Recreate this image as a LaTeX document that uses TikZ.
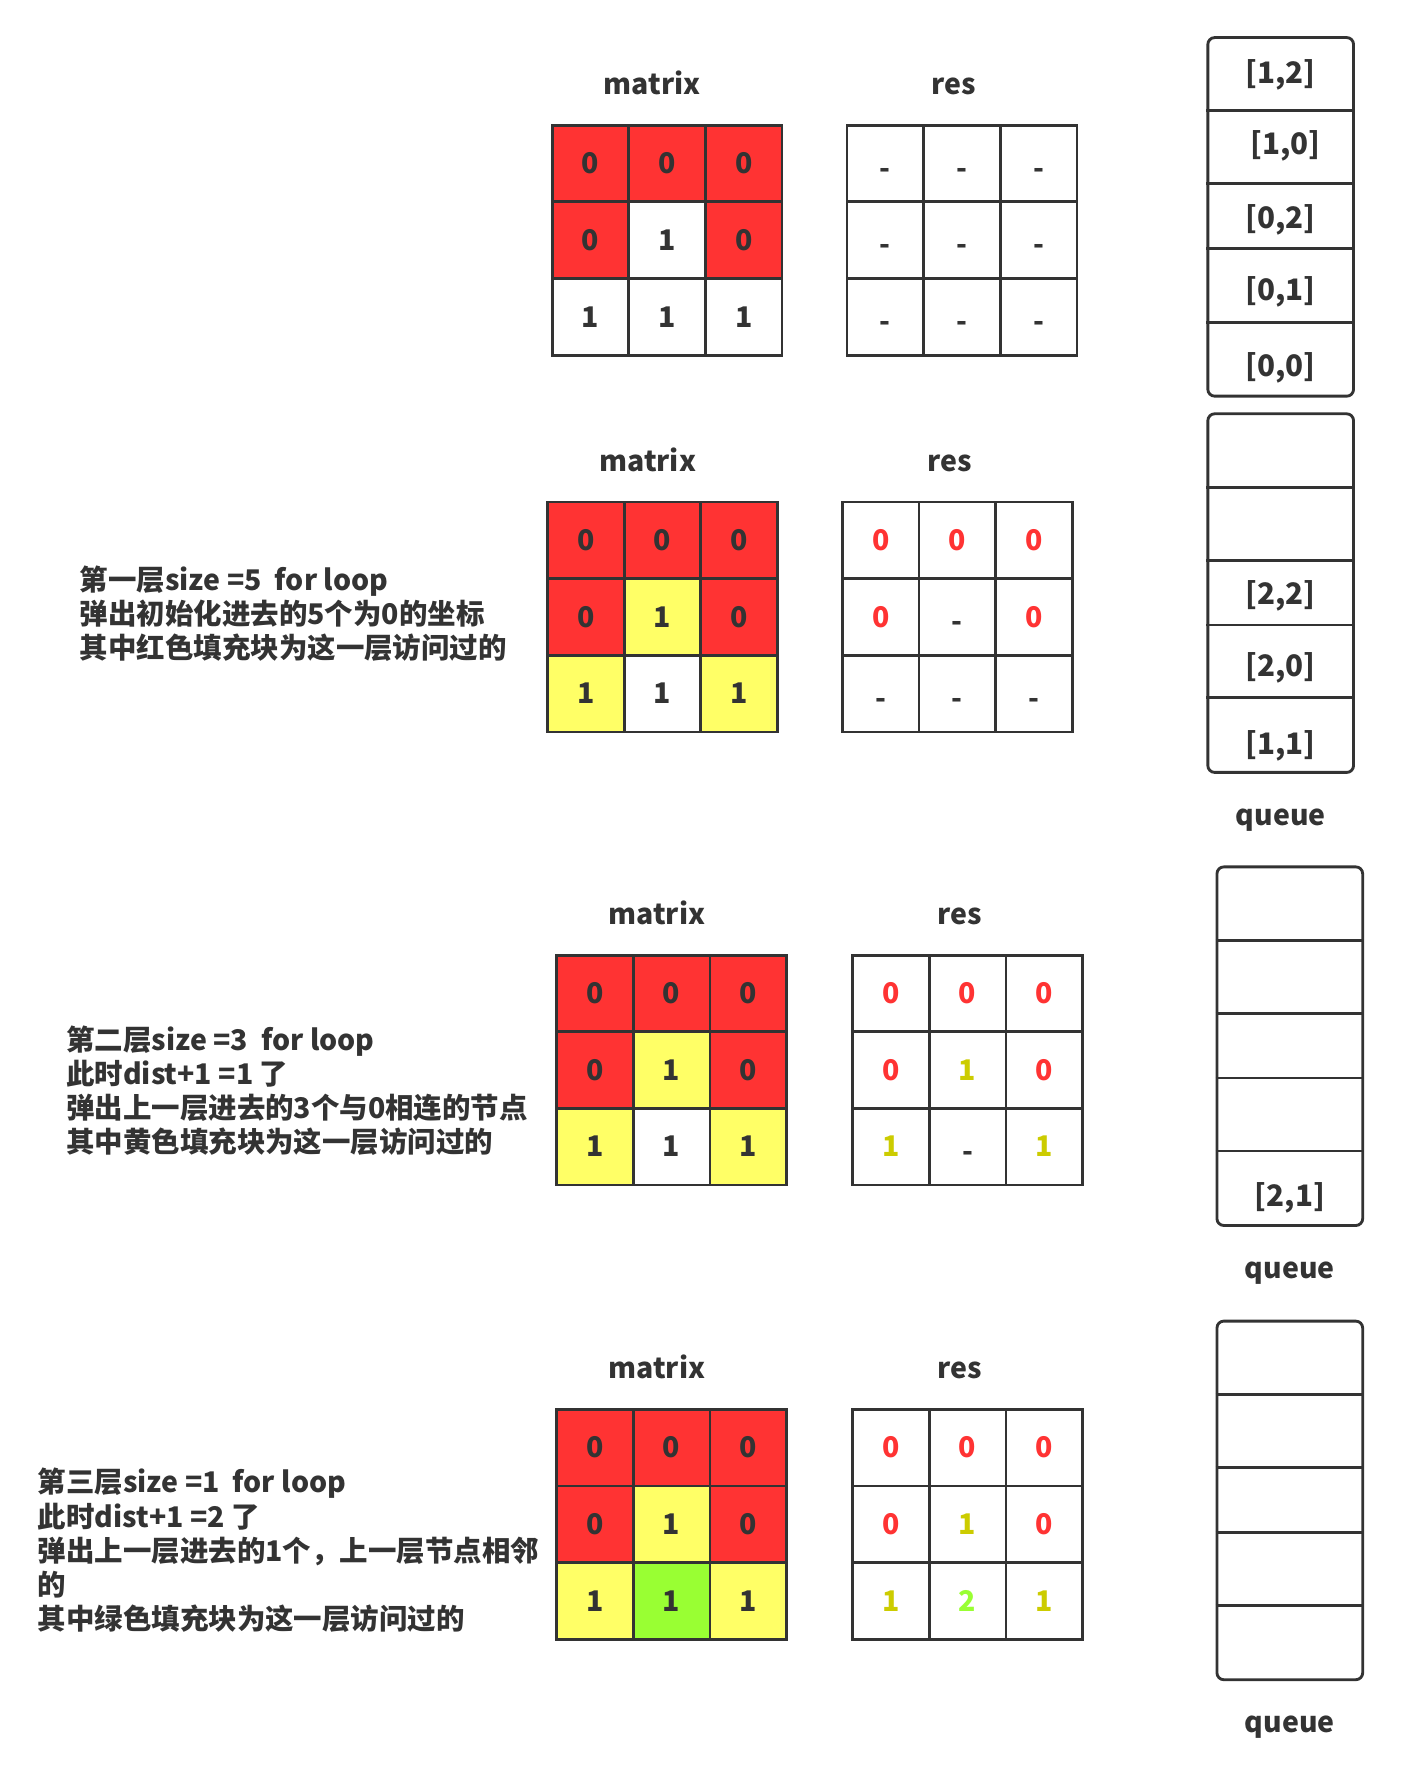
\documentclass[tikz,border=0pt]{standalone}
\usepackage{fontspec}
\setmainfont{Noto Sans CJK SC}
\usetikzlibrary{positioning}

\definecolor{linegray}{HTML}{333333}
\definecolor{vred}{HTML}{FF3333}
\definecolor{vyellow}{HTML}{FFFF66}
\definecolor{vgreen}{HTML}{99FF33}
\definecolor{dyellow}{HTML}{CCCC00}

\tikzset{
  cell/.style={draw=linegray, line width=2.5pt, minimum size=67.33pt, inner sep=0pt, text height=18pt, text depth=0pt, font=\fontsize{25}{28}\selectfont\bfseries},
  title/.style={font=\fontsize{25}{28}\selectfont\bfseries, text=linegray},
  qbox/.style={draw=linegray, line width=2.5pt, rounded corners=6pt, minimum width=128pt, minimum height=315pt, inner sep=0pt},
  slot/.style={font=\fontsize{26}{28}\selectfont\bfseries, text=linegray},
  note/.style={font=\fontsize{25}{30}\selectfont\bfseries, text=linegray, align=left, anchor=west, inner sep=0pt},
  divider/.style={draw=linegray, line width=2.5pt},
}

\newcommand\dash{\raisebox{-4pt}[0pt][0pt]{-}}

% 3x3 grid of cells: name, left, top, list of value/fill/text colour
\newcommand\cellgrid[4]{%
  \foreach \val/\bg/\fg [count=\i from 0] in {#4} {
    \pgfmathtruncatemacro\row{div(\i,3)}
    \pgfmathtruncatemacro\col{mod(\i,3)}
    \node[cell, fill=\bg, text=\fg] (#1-\row\col) at ({#2+(\col+0.5)*67.33}, {#3+(\row+0.5)*67.33}) {\val};
  }}

\begin{document}
\begin{tikzpicture}[x=1pt, y=-1pt]

    \useasboundingbox (0,0) rectangle (1245,1568);

    % step 0
    \cellgrid{m1}{485}{110}{0/vred/linegray,0/vred/linegray,0/vred/linegray,0/vred/linegray,1/white/linegray,0/vred/linegray,1/white/linegray,1/white/linegray,1/white/linegray}
    \cellgrid{r1}{744}{110}{\dash/white/linegray,\dash/white/linegray,\dash/white/linegray,\dash/white/linegray,\dash/white/linegray,\dash/white/linegray,\dash/white/linegray,\dash/white/linegray,\dash/white/linegray}
    \node[title, above=22pt of m1-01, xshift=-13pt] (m1lab) {matrix};
    \node[title, above=22pt of r1-01, xshift=-7pt] (r1lab) {res};

    \node[qbox] (q1) at (1125,190.5) {};
    \foreach \y in {97,161,218,283}
        \draw[divider] (q1.west |- 0,\y) -- (q1.east |- 0,\y);
    \node[slot] (q1a) at (1125,66) {[1,2]};
    \node[slot] (q1b) at (1129,128) {[1,0]};
    \node[slot] (q1c) at (1125,193) {[0,2]};
    \node[slot] (q1d) at (1125,256) {[0,1]};
    \node[slot] (q1e) at (1125,323) {[0,0]};

    % step 1
    \node[note] (n2) at (70,539) {第一层size =5\ \ for loop\\弹出初始化进去的5个为0的坐标\\其中红色填充块为这一层访问过的};
    \cellgrid{m2}{481}{441}{0/vred/linegray,0/vred/linegray,0/vred/linegray,0/vred/linegray,1/vyellow/linegray,0/vred/linegray,1/vyellow/linegray,1/white/linegray,1/vyellow/linegray}
    \cellgrid{r2}{740}{441}{0/white/vred,0/white/vred,0/white/vred,0/white/vred,\dash/white/linegray,0/white/vred,\dash/white/linegray,\dash/white/linegray,\dash/white/linegray}
    \node[title, above=22pt of m2-01, xshift=-13pt] (m2lab) {matrix};
    \node[title, above=22pt of r2-01, xshift=-7pt] (r2lab) {res};

    \node[qbox] (q2) at (1125,521) {};
    \foreach \y in {428,492,549,613}
        \draw[divider] (q2.west |- 0,\y) -- (q2.east |- 0,\y);
    \node[slot] (q2c) at (1125,523) {[2,2]};
    \node[slot] (q2d) at (1125,587) {[2,0]};
    \node[slot] (q2e) at (1125,655) {[1,1]};
    \node[title, below=27pt of q2] (q2lab) {queue};

    % step 2
    \node[note] (n3) at (58,958) {第二层size =3\ \ for loop\\此时dist+1 =1 了\\弹出上一层进去的3个与0相连的节点\\其中黄色填充块为这一层访问过的};
    \cellgrid{m3}{489}{839}{0/vred/linegray,0/vred/linegray,0/vred/linegray,0/vred/linegray,1/vyellow/linegray,0/vred/linegray,1/vyellow/linegray,1/white/linegray,1/vyellow/linegray}
    \cellgrid{r3}{749}{839}{0/white/vred,0/white/vred,0/white/vred,0/white/vred,1/white/dyellow,0/white/vred,1/white/dyellow,\dash/white/linegray,1/white/dyellow}
    \node[title, above=22pt of m3-01, xshift=-13pt] (m3lab) {matrix};
    \node[title, above=22pt of r3-01, xshift=-7pt] (r3lab) {res};

    \node[qbox] (q3) at (1133,919) {};
    \foreach \y in {826,890,947,1011}
        \draw[divider] (q3.west |- 0,\y) -- (q3.east |- 0,\y);
    \node[slot] (q3e) at (1133,1052) {[2,1]};
    \node[title, below=27pt of q3] (q3lab) {queue};

    % step 3
    \node[note] (n4) at (33,1362) {第三层size =1\ \ for loop\\此时dist+1 =2 了\\弹出上一层进去的1个，上一层节点相邻\\的\\其中绿色填充块为这一层访问过的};
    \cellgrid{m4}{489}{1238}{0/vred/linegray,0/vred/linegray,0/vred/linegray,0/vred/linegray,1/vyellow/linegray,0/vred/linegray,1/vyellow/linegray,1/vgreen/linegray,1/vyellow/linegray}
    \cellgrid{r4}{749}{1238}{0/white/vred,0/white/vred,0/white/vred,0/white/vred,1/white/dyellow,0/white/vred,1/white/dyellow,2/white/vgreen,1/white/dyellow}
    \node[title, above=22pt of m4-01, xshift=-13pt] (m4lab) {matrix};
    \node[title, above=22pt of r4-01, xshift=-7pt] (r4lab) {res};

    \node[qbox] (q4) at (1133,1318) {};
    \foreach \y in {1225,1289,1346,1410}
        \draw[divider] (q4.west |- 0,\y) -- (q4.east |- 0,\y);
    \node[title, below=27pt of q4] (q4lab) {queue};

\end{tikzpicture}
\end{document}
